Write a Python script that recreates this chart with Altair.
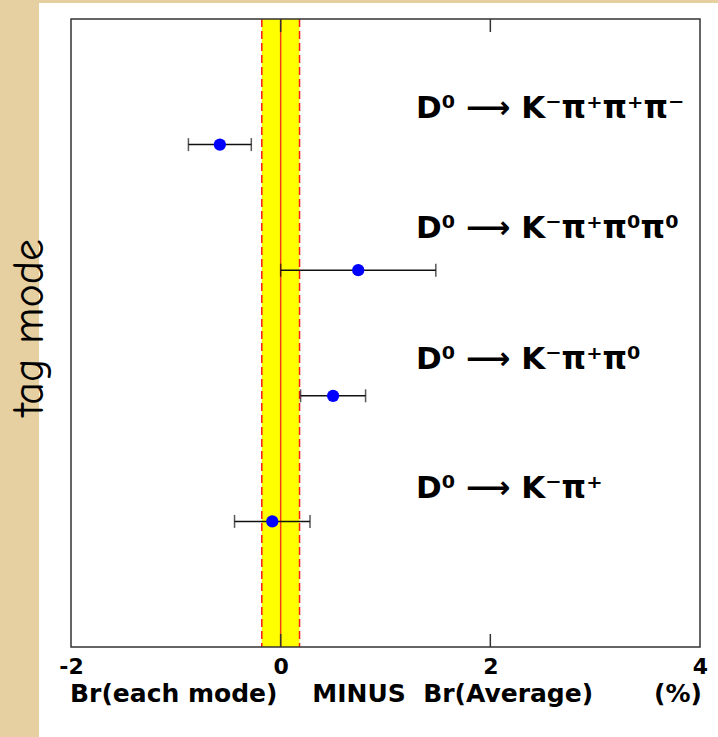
import altair as alt
import pandas as pd

# Branching-fraction difference per tag mode (each mode minus average), in %
modes = ["D⁰ ⟶ K⁻π⁺π⁺π⁻", "D⁰ ⟶ K⁻π⁺π⁰π⁰", "D⁰ ⟶ K⁻π⁺π⁰", "D⁰ ⟶ K⁻π⁺"]
rows = [4, 3, 2, 1]
diff = [-0.58, 0.74, 0.50, -0.08]
err = [0.30, 0.74, 0.31, 0.36]

# Where each mode's name sits
label_rows = [4.21, 3.26, 2.21, 1.19]
label_x = 1.29

# Uncertainty of the average
avg_err = 0.18

x_ticks = [-2, 0, 2, 4]
x_domain = [-2, 4]
y_domain = [0, 5]

points = pd.DataFrame({
    "mode": modes,
    "row": rows,
    "diff": diff,
    "lo": [d - e for d, e in zip(diff, err)],
    "hi": [d + e for d, e in zip(diff, err)],
})
labels = pd.DataFrame({"mode": modes, "row": label_rows, "x": [label_x] * len(modes)})
band = pd.DataFrame({"lo": [-avg_err], "hi": [avg_err]})
edges = pd.DataFrame({"x": [-avg_err, avg_err]})
centre = pd.DataFrame({"x": [0.0]})
inner_ticks = pd.DataFrame({"x": [t for t in x_ticks if x_domain[0] < t < x_domain[1]]})
one = pd.DataFrame({"k": [0]})

xs = alt.Scale(domain=x_domain, nice=False, zero=False)
ys = alt.Scale(domain=y_domain, nice=False, zero=False)

nb = "\u00a0"
title_text = "Br(each mode)" + nb * 4 + "MINUS" + nb * 2 + "Br(Average)" + nb * 7 + "(%)"

x_axis = alt.Axis(
    values=x_ticks, domain=False, ticks=False, tickSize=0, grid=False,
    labelExpr="'' + datum.value",
    labelFont="DejaVu Sans", labelFontWeight="bold", labelFontSize=22,
    labelColor="black", labelPadding=26, labelBaseline="alphabetic",
    labelFlush=False, labelOverlap=False,
    title=title_text, titleFont="DejaVu Sans", titleFontWeight="bold",
    titleFontSize=25, titleColor="black", titleBaseline="alphabetic",
    titleY=54, zindex=1,
)
y_axis = alt.Axis(
    domain=False, ticks=False, labels=False, grid=False,
    title="tag mode", titleFont="Comic Sans MS, Comic Neue, Noto Sans",
    titleFontWeight="normal", titleFontSize=44, titleColor="black",
    titleAngle=-90, titleAlign="center", titleBaseline="alphabetic",
    titleX=-29, titleY=308, zindex=1,
)

# White sheet the plot sits on
sheet = alt.Chart(one).mark_rect(color="white").encode(
    x=alt.value(-32), x2=alt.value(647), y=alt.value(-16), y2=alt.value(718)
)

yellow = alt.Chart(band).mark_rect(color="#ffff00").encode(
    x=alt.X("lo:Q", scale=xs, axis=x_axis),
    x2="hi:Q",
    y=alt.value(0), y2=alt.value("height"),
)

dashed = alt.Chart(edges).mark_rule(color="#ff1a1a", strokeWidth=1.5, strokeDash=[8, 4]).encode(
    x=alt.X("x:Q", scale=xs), y=alt.value(0), y2=alt.value("height")
)

centre_line = alt.Chart(centre).mark_rule(color="#f23c1a", strokeWidth=1.5).encode(
    x=alt.X("x:Q", scale=xs), y=alt.value(0), y2=alt.value("height")
)

ticks_top = alt.Chart(inner_ticks).mark_rule(color="#333333", strokeWidth=1.5).encode(
    x=alt.X("x:Q", scale=xs), y=alt.value(0), y2=alt.value(13)
)
ticks_bottom = alt.Chart(inner_ticks).mark_rule(color="#333333", strokeWidth=1.5).encode(
    x=alt.X("x:Q", scale=xs), y=alt.value(615), y2=alt.value(628)
)

bars = alt.Chart(points).mark_rule(color="#111111", strokeWidth=1.5).encode(
    x=alt.X("lo:Q", scale=xs), x2="hi:Q",
    y=alt.Y("row:Q", scale=ys, axis=y_axis),
)
caps_lo = alt.Chart(points).mark_tick(color="#111111", orient="vertical", size=13, thickness=1.5).encode(
    x=alt.X("lo:Q", scale=xs), y=alt.Y("row:Q", scale=ys)
)
caps_hi = alt.Chart(points).mark_tick(color="#111111", orient="vertical", size=13, thickness=1.5).encode(
    x=alt.X("hi:Q", scale=xs), y=alt.Y("row:Q", scale=ys)
)
dots = alt.Chart(points).mark_circle(color="#0000ff", size=150, opacity=1).encode(
    x=alt.X("diff:Q", scale=xs), y=alt.Y("row:Q", scale=ys)
)

names = alt.Chart(labels).mark_text(
    align="left", baseline="alphabetic", font="DejaVu Sans",
    fontWeight="bold", fontSize=31, color="black",
).encode(
    x=alt.X("x:Q", scale=xs), y=alt.Y("row:Q", scale=ys), text="mode:N"
)

frame = alt.Chart(one).mark_rect(filled=False, stroke="#333333", strokeWidth=1.5).encode(
    x=alt.value(0), x2=alt.value("width"), y=alt.value(0), y2=alt.value("height")
)

chart = alt.layer(
    sheet, yellow, dashed, centre_line, ticks_top, ticks_bottom,
    bars, caps_lo, caps_hi, dots, names, frame,
).properties(
    width=629, height=628,
    padding={"left": 71, "top": 19, "right": 18, "bottom": 90},
    autosize="none",
    background="#e6cfa0",
).configure_view(stroke=None)

chart.save("out.html", embed_options={"renderer": "svg", "actions": False})
